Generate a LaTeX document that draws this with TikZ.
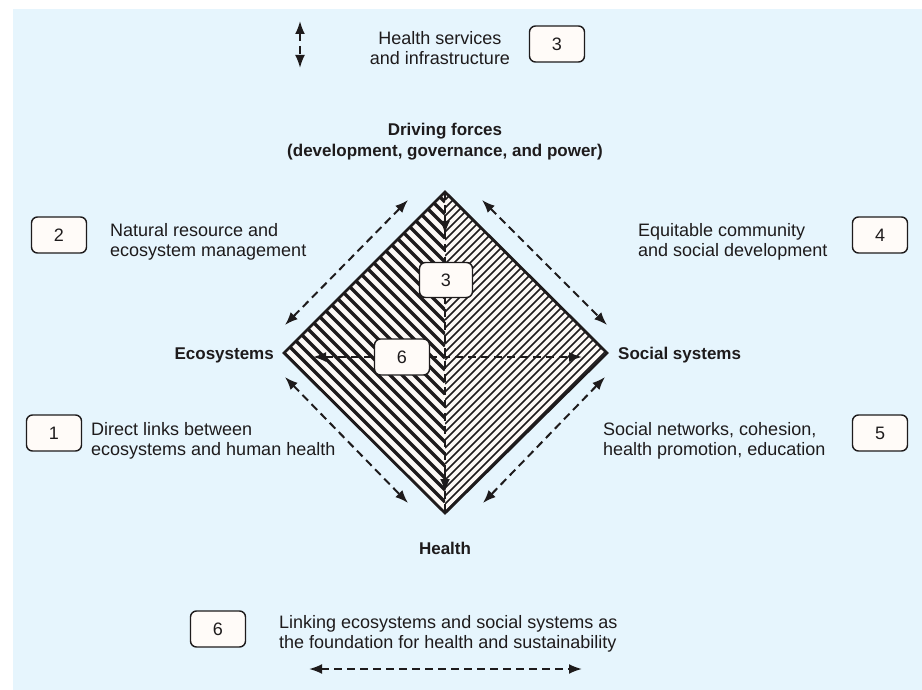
\documentclass[tikz,border=0pt]{standalone}
\usepackage{fontspec}
\setmainfont{Liberation Sans}
\usepackage{xcolor}
\definecolor{ColBg}{RGB}{230,245,253}
\definecolor{ColBox}{RGB}{255,251,248}
\definecolor{ColFill}{RGB}{253,249,246}
\definecolor{ColInk}{RGB}{30,27,28}
\usepackage{tikz}
\usetikzlibrary{arrows.meta}
\tikzstyle{Box}=[draw=ColInk,fill=ColBox,rounded corners=6pt,line width=1.4pt,
minimum width=55pt,minimum height=36pt,inner sep=0pt,text=ColInk,
font=\fontsize{18}{20}\selectfont]
\tikzstyle{Label}=[inner sep=0pt,text=ColInk,align=left,
font=\fontsize{18}{20}\selectfont]
\tikzstyle{Corner}=[inner sep=0pt,text=ColInk,align=center,
font=\fontsize{17}{21}\selectfont\bfseries]
\tikzstyle{Link}=[draw=ColInk,line width=2pt,dash pattern=on 8pt off 5pt,
{Latex[length=13pt,width=10pt]}-{Latex[length=13pt,width=10pt]}]
\tikzstyle{Tip}=[draw=ColInk,line width=2pt,-{Latex[length=13pt,width=10pt]}]
\tikzstyle{HatchL}=[draw=ColInk,line width=3.3pt]
\tikzstyle{HatchR}=[draw=ColInk,line width=1.6pt]
\tikzstyle{Rim}=[draw=ColInk,line width=2.8pt,line join=miter]

\begin{document}
\begin{tikzpicture}[x=1pt,y=-1pt]
    \useasboundingbox (0,0) rectangle (922,690);
    \fill[ColBg] (13,9) rectangle (922,690);
    % diamond corners
    \coordinate (T) at (445,192);
    \coordinate (L) at (284,353);
    \coordinate (B) at (445,513);
    \coordinate (R) at (607,353);
    \fill[ColFill] (T)--(L)--(B)--(R)--cycle;
    \begin{scope}
        \clip (T)--(L)--(B)--cycle;
        \foreach \c in {-69,-57,...,253}
            \draw[HatchL] (284,{284-(\c)})--(445,{445-(\c)});
    \end{scope}
    \begin{scope}
        \clip (T)--(R)--(B)--cycle;
        \foreach \c in {637,645,...,960}
            \draw[HatchR] (445,{\c-445})--(607,{\c-607});
    \end{scope}
    \draw[Rim] (T)--(L)--(B)--(R)--cycle;
    % corner labels
    \node[Corner,anchor=base](drv)at(445,157){Driving forces\\(development, governance, and power)};
    \node[Corner,anchor=base east](eco)at(274,359){Ecosystems};
    \node[Corner,anchor=base west](soc)at(618,359){Social systems};
    \node[Corner,anchor=base](hlt)at(445,554){Health};
    % links along the sides
    \coordinate (a2s) at (408,200);
    \coordinate (a2e) at (285,325);
    \coordinate (a4s) at (482,200);
    \coordinate (a4e) at (607,325);
    \coordinate (a1s) at (285,377);
    \coordinate (a1e) at (408,503);
    \coordinate (a5s) at (605,377);
    \coordinate (a5e) at (483,503);
    \draw[Link](a2s)--(a2e);
    \draw[Link](a4s)--(a4e);
    \draw[Link](a1s)--(a1e);
    \draw[Link](a5s)--(a5e);
    % links through the middle
    \coordinate (m6s) at (313,357);
    \coordinate (m6e) at (582,357);
    \draw[Link](m6s)--(m6e);
    \draw[draw=ColInk,line width=2pt,dash pattern=on 8pt off 5pt](T)--(B);
    \coordinate (m3a) at (445,215);
    \coordinate (m3b) at (445,234);
    \coordinate (m3c) at (445,473);
    \coordinate (m3d) at (445,492);
    \draw[Tip](m3a)--(m3b);
    \draw[Tip](m3c)--(m3d);
    \node[Box,minimum width=53pt,minimum height=35pt](c3)at(446,280){3};
    \node[Box](c6)at(402,357){6};
    % legend
    \coordinate (k3s) at (300,21);
    \coordinate (k3e) at (300,68);
    \draw[Link](k3s)--(k3e);
    \node[Label,align=center,anchor=base](t3)at(440,65){Health services\\and infrastructure};
    \node[Box](b3)at(557,44){3};
    \node[Box](b2)at(59,235){2};
    \node[Label,anchor=base west](t2)at(110,256){Natural resource and\\ecosystem management};
    \node[Box](b4)at(880,235){4};
    \node[Label,anchor=base west](t4)at(638,256){Equitable community\\and social development};
    \node[Box](b1)at(54,433){1};
    \node[Label,anchor=base west](t1)at(91,455){Direct links between\\ecosystems and human health};
    \node[Box](b5)at(880,433){5};
    \node[Label,anchor=base west](t5)at(603,455){Social networks, cohesion,\\health promotion, education};
    \node[Box](b6)at(218,629){6};
    \node[Label,anchor=base west](t6)at(279,648){Linking ecosystems and social systems as\\the foundation for health and sustainability};
    \coordinate (k6s) at (309,669);
    \coordinate (k6e) at (582,669);
    \draw[Link](k6s)--(k6e);
\end{tikzpicture}
\end{document}
